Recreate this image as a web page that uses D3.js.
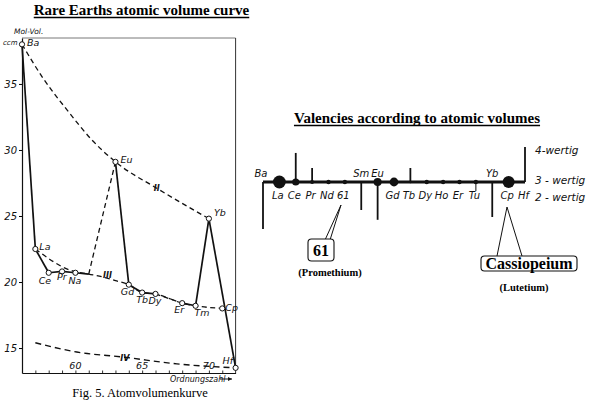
<!DOCTYPE html>
<html><head><meta charset="utf-8">
<script src="https://cdn.jsdelivr.net/npm/d3@7"></script>
<style>
body{margin:0;background:#fff;}
svg{display:block;}
.hand{font-family:"DejaVu Sans",sans-serif;font-style:italic;fill:#111;}
.serif{font-family:"Liberation Serif","Times New Roman",serif;fill:#000;}
</style></head><body>
<svg id="c" width="602" height="405"></svg>
<script>
// ---------------- DATA ----------------
// Left: atomic volume curve (Mol-Vol. ccm vs. atomic number)
const elements      = ["Ba","La","Ce","Pr","Na","Eu","Gd","Tb","Dy","Er","Tm","Yb","Cp","Hf"];
const atomicNumber  = [56, 57, 58, 59, 60, 63, 64, 65, 66, 68, 69, 70, 71, 72];
const molVolume     = [38.0,22.5,20.7,20.8,20.7,29.1,19.8,19.2,19.1,18.4,18.2,24.8,18.0,13.5];
// measured polyline (element 61 estimated, Cp lies on curve III)
const measuredZ     = [56, 57, 58, 59, 60, 61, 63, 64, 65, 66, 68, 69, 70, 72];
const measuredV     = [38.0,22.5,20.7,20.8,20.7,20.6,29.1,19.8,19.2,19.1,18.4,18.2,24.8,13.5];
const gapAfterZ     = [61, 66];           // dashed segments (missing elements)
// valency curves II, III, IV
const curveIIZ      = [56, 57.6, 59.4, 61.2, 63, 66.1, 70];
const curveIIV      = [38.0,35.4,33.0,30.8,29.1,27.1,24.8];
const curveIIIZ     = [57, 59.6, 61, 62, 63, 64, 65, 66, 68, 69, 71];
const curveIIIV     = [22.5,20.9,20.6,20.4,20.1,19.8,19.2,19.1,18.4,18.2,18.0];
const curveIVZ      = [57, 60.1, 63.7, 67.6, 72];
const curveIVV      = [15.4,14.7,14.3,13.8,13.5];
const yTicks        = [15, 20, 25, 30, 35];
const xTickLabels   = [60, 65, 70];

// Right: valencies according to atomic volumes
const valSymbols = ["Ba","La","Ce","Pr","Nd","61","Sm","Eu","Gd","Tb","Dy","Ho","Er","Tu","Yb","Cp","Hf"];
const valZ       = [56,57,58,59,60,61,62,63,64,65,66,67,68,69,70,71,72];
const valency    = [1.66,3,3.83,3.4,3,3,2.2,1.92,3,3.4,3,3,3,2.74,2.0,3,4];
const dotWeight  = [0,3.2,1.8,1,1.1,1.1,0,2,2.2,0.6,1.1,1.1,1.1,1.1,0,3,0];
const labelAbove = ["Ba","Sm","Eu","Yb"];
const valLevels  = ["4-wertig","3 - wertig","2 - wertig"];

// ---------------- DRAW ----------------
const svg = d3.select("#c");

function underlinedTitle(txt, cx, y, size){
  const t = svg.append("text").attr("class","serif").attr("x",cx).attr("y",y)
    .attr("text-anchor","middle").attr("font-weight","bold").attr("font-size",size).text(txt);
  const w = t.node().getComputedTextLength();
  svg.append("line").attr("x1",cx-w/2).attr("x2",cx+w/2).attr("y1",y+2.5).attr("y2",y+2.5)
    .attr("stroke","#000").attr("stroke-width",1.4);
}
underlinedTitle("Rare Earths atomic volume curve", 141.5, 15, 15);
underlinedTitle("Valencies according to atomic volumes", 417, 123, 15);

// ----- left chart -----
const x = d3.scaleLinear().domain([56,72]).range([22,235.6]);
const y = d3.scaleLinear().domain([13.11,38.48]).range([373,38]);
const g = svg.append("g");

// frame
g.append("line").attr("x1",22).attr("x2",235.6).attr("y1",y(38.48)).attr("y2",y(38.48)).attr("stroke","#555").attr("stroke-width",0.8);
g.append("line").attr("x1",235.6).attr("x2",235.6).attr("y1",y(38.48)).attr("y2",y(13.11)).attr("stroke","#333").attr("stroke-width",1);

const yAxis = g.append("g").attr("transform","translate(22,0)")
  .call(d3.axisLeft(y).tickValues(yTicks).tickSize(3).tickSizeOuter(0).tickFormat(d3.format("d")));
yAxis.select(".domain").attr("stroke","#111").attr("stroke-width",1.2);
yAxis.selectAll("text").attr("class","hand").attr("font-size",10).attr("x",-5);

const xAxis = g.append("g").attr("transform","translate(0,373)")
  .call(d3.axisTop(x).tickValues(d3.range(57,72)).tickSize(2.5).tickSizeOuter(0).tickFormat(""));
xAxis.select(".domain").attr("stroke","#111").attr("stroke-width",1.2);
xAxis.selectAll("line").attr("stroke","#333");
g.selectAll(".xl").data(xTickLabels).join("text").attr("class","hand")
  .attr("x",d=>x(d)).attr("y",369).attr("text-anchor","middle").attr("font-size",9.5).text(d=>d);

g.append("text").attr("class","hand").attr("x",14).attr("y",34).attr("font-size",7.5).text("Mol-Vol.");
g.append("text").attr("class","hand").attr("x",3).attr("y",45).attr("font-size",7).text("ccm");
// Ordnungszahl
g.append("text").attr("class","hand").attr("x",170).attr("y",382).attr("font-size",8).text("Ordnungszahl");
g.append("line").attr("x1",220).attr("x2",232).attr("y1",379).attr("y2",379).attr("stroke","#111");
g.append("path").attr("d","M232,379 l-4,-2 v4 z").attr("fill","#111");

const lineGen = d3.line().x(d=>x(d[0])).y(d=>y(d[1])).curve(d3.curveMonotoneX);
function curve(zs, vs){ return lineGen(zs.map((z,i)=>[z,vs[i]])); }

g.append("path").attr("d",curve(curveIIZ,curveIIV)).attr("fill","none").attr("stroke","#111").attr("stroke-width",1.3).attr("stroke-dasharray","5,3.5");
g.append("path").attr("d",curve(curveIIIZ,curveIIIV)).attr("fill","none").attr("stroke","#111").attr("stroke-width",1.3).attr("stroke-dasharray","5,3.5");
g.append("path").attr("d",curve(curveIVZ,curveIVV)).attr("fill","none").attr("stroke","#111").attr("stroke-width",1.4).attr("stroke-dasharray","6,4");

// measured polyline
for (let i=0;i<measuredZ.length-1;i++){
  const dashed = gapAfterZ.includes(measuredZ[i]);
  g.append("line").attr("x1",x(measuredZ[i])).attr("y1",y(measuredV[i]))
    .attr("x2",x(measuredZ[i+1])).attr("y2",y(measuredV[i+1]))
    .attr("stroke","#111").attr("stroke-width",dashed?1.3:1.7)
    .attr("stroke-dasharray",dashed?"5,3.5":null);
}
// roman labels
const roman = [["II",66.1,26.9],["III",62.4,20.3],["IV",63.7,14.0]];
g.selectAll(".rom").data(roman).join("text").attr("class","hand").attr("font-size",8).attr("font-weight","bold")
  .attr("x",d=>x(d[1])).attr("y",d=>y(d[2])).attr("text-anchor","middle").text(d=>d[0]);

// points
const pts = elements.map((e,i)=>({e, z:atomicNumber[i], v:molVolume[i]}));
g.selectAll(".pt").data(pts).join("circle").attr("cx",d=>x(d.z)).attr("cy",d=>y(d.v)).attr("r",2.6)
  .attr("fill","#fff").attr("stroke","#111").attr("stroke-width",1);
const off = {Ba:[5,2],La:[4,1],Ce:[-10,11],Pr:[-5,9],Na:[-7,11],Eu:[5,1],Yb:[5,-3],Gd:[-8,10],Tb:[-6,10],
  Dy:[-7,10],Er:[-8,10],Tm:[-1,10],Cp:[3,3],Hf:[-13,-4]};
g.selectAll(".pl").data(pts).join("text").attr("class","hand").attr("font-size",9.5)
  .attr("x",d=>x(d.z)+off[d.e][0]).attr("y",d=>y(d.v)+off[d.e][1]).text(d=>d.e);

svg.append("text").attr("class","serif").attr("x",140).attr("y",397).attr("text-anchor","middle")
  .attr("font-size",12.5).text("Fig. 5.  Atomvolumenkurve");

// ----- right chart -----
const vx = d3.scaleLinear().domain([56,72]).range([263,525]);
const vy = d3.scaleLinear().domain([2,4]).range([217,147]);
const r  = d3.scaleLinear().domain([0,3]).range([0,6]);
const rg = svg.append("g");
const vals = valSymbols.map((s,i)=>({s, z:valZ[i], v:valency[i], w:dotWeight[i]}));

rg.selectAll(".vl").data(vals.filter(d=>d.v!==3)).join("line")
  .attr("x1",d=>vx(d.z)).attr("x2",d=>vx(d.z)).attr("y1",vy(3)).attr("y2",d=>vy(d.v))
  .attr("stroke","#111").attr("stroke-width",d=>d.s==="Tu"?1:1.8);
rg.append("line").attr("x1",vx(56)).attr("x2",vx(72)).attr("y1",vy(3)).attr("y2",vy(3))
  .attr("stroke","#111").attr("stroke-width",2.8);
rg.selectAll(".vd").data(vals.filter(d=>d.w>0)).join("circle")
  .attr("cx",d=>vx(d.z)).attr("cy",vy(3)).attr("r",d=>r(d.w)).attr("fill","#111");
rg.selectAll(".vt").data(vals).join("text").attr("class","hand").attr("font-size",10)
  .attr("text-anchor","middle")
  .attr("x",d=>vx(d.z)-(labelAbove.includes(d.s)?(d.s==="Ba"?2:0):1.5))
  .attr("y",d=>labelAbove.includes(d.s)?vy(3)-5:vy(3)+16.5).text(d=>d.s);
rg.selectAll(".lv").data(valLevels).join("text").attr("class","hand").attr("font-size",10.5)
  .attr("x",535).attr("y",(d,i)=>[154,184,201][i]).text(d=>d);

// annotations
function callout(apex, feet, box, txt, fs, sub, subY){
  feet.forEach(f=>rg.append("line").attr("x1",apex[0]).attr("y1",apex[1]).attr("x2",f[0]).attr("y2",f[1]).attr("stroke","#111").attr("stroke-width",1));
  rg.append("rect").attr("x",box[0]).attr("y",box[1]).attr("width",box[2]).attr("height",box[3]).attr("rx",3.5)
    .attr("fill","#fff").attr("stroke","#111").attr("stroke-width",1.1);
  rg.append("text").attr("class","serif").attr("font-weight","bold").attr("font-size",fs)
    .attr("x",box[0]+box[2]/2).attr("y",box[1]+box[3]/2+fs*0.35).attr("text-anchor","middle").text(txt);
  rg.append("text").attr("class","serif").attr("font-weight","bold").attr("font-size",10.5)
    .attr("x",box[0]+box[2]/2+(sub==="(Lutetium)"?-5:9)).attr("y",subY).attr("text-anchor","middle").text(sub);
}
callout([341,205],[[325,240],[330,240]],[308,239,26,22],"61",16,"(Promethium)",276);
callout([507,207],[[497,256],[522,256]],[481,256,96,15],"Cassiopeium",16,"(Lutetium)",291);
</script>
</body></html>
